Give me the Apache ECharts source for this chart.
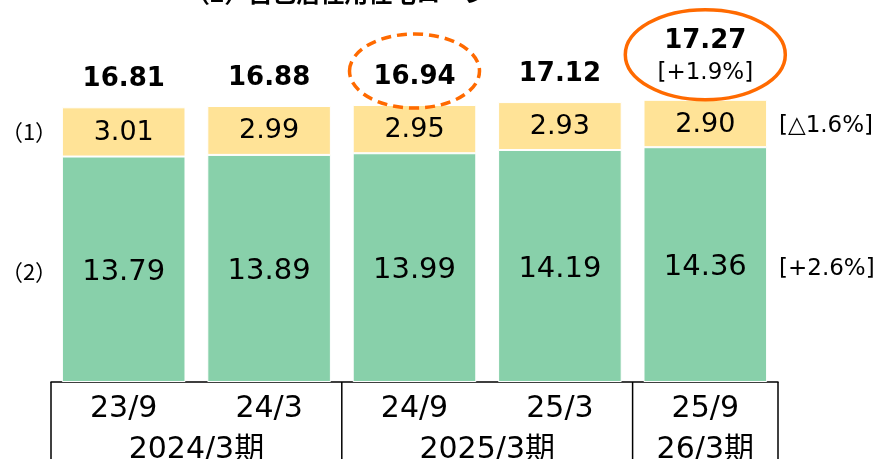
<!DOCTYPE html>
<html>
<head>
<meta charset="utf-8">
<script src="https://cdn.jsdelivr.net/npm/echarts@6/dist/echarts.min.js"></script>
<style>html,body{margin:0;padding:0;background:#fff}#c{width:883px;height:459px}</style>
</head>
<body>
<div id="c"></div>
<script>
const titleText = '（2）自己居住用住宅ローン';
const categories = ['23/9', '24/3', '24/9', '25/3', '25/9'];
const periods = ['2024/3期', '2025/3期', '26/3期'];
const periodSpans = [[0, 1], [2, 3], [4, 4]];
const series1 = [3.01, 2.99, 2.95, 2.93, 2.90];
const series2 = [13.79, 13.89, 13.99, 14.19, 14.36];
const totals = [16.81, 16.88, 16.94, 17.12, 17.27];
const totalChange = '[+1.9%]';
const rowNames = ['（1）', '（2）'];
const rowChanges = ['[△1.6%]', '[+2.6%]'];

const GREEN = '#88D0AA';
const YELLOW = '#FFE397';
const ORANGE = '#FF6A00';
const NUM_FONT = 'DejaVu Sans, Noto Sans CJK JP, sans-serif';
const JP_FONT = 'Noto Sans CJK JP, sans-serif';

const chart = echarts.init(document.getElementById('c'), null, {renderer: 'canvas'});
const last = categories.length - 1;

chart.setOption({
  animation: false,
  grid: {left: 51, right: 105, top: 55, bottom: 77},
  xAxis: {
    type: 'category', data: categories,
    axisLine: {lineStyle: {color: '#000', width: 1.5}},
    axisTick: {show: false},
    axisLabel: {fontSize: 30, color: '#000', margin: 12, fontFamily: NUM_FONT}
  },
  yAxis: {type: 'value', min: 0, max: 20, show: false},
  series: [
    {
      type: 'bar', stack: 's', data: series2, barWidth: '85%',
      itemStyle: {color: GREEN, borderColor: '#fff', borderWidth: 1},
      label: {show: true, position: 'inside', offset: [0, 3], fontSize: 29, color: '#000', fontFamily: NUM_FONT,
        formatter: p => p.value.toFixed(2)}
    },
    {
      type: 'bar', stack: 's', data: series1,
      itemStyle: {color: YELLOW, borderColor: '#fff', borderWidth: 1},
      label: {show: true, position: 'inside', offset: [0, 1], fontSize: 27, color: '#000', fontFamily: NUM_FONT,
        formatter: p => p.value.toFixed(2)}
    },
    {
      type: 'scatter', data: totals, symbolSize: 1,
      itemStyle: {color: 'rgba(0,0,0,0)', opacity: 1},
      silent: true,
      label: {
        show: true, position: 'top', distance: 11, color: '#000',
        formatter: p => p.dataIndex === last
          ? '{a|' + p.value.toFixed(2) + '}\n{b|' + totalChange + '}'
          : '{a|' + p.value.toFixed(2) + '}',
        rich: {
          a: {fontSize: 26, fontWeight: 'bold', color: '#000', lineHeight: 33, fontFamily: NUM_FONT},
          b: {fontSize: 23, color: '#000', lineHeight: 30, fontFamily: NUM_FONT}
        }
      }
    }
  ]
});

const px = (i, v) => chart.convertToPixel({xAxisIndex: 0, yAxisIndex: 0}, [i, v]);
const band = px(1, 0)[0] - px(0, 0)[0];
const baseY = px(0, 0)[1];
const H = 459;
const g = [];

// title (cut off at top, as in the reference)
g.push({type: 'text', left: 186, top: -19, style: {text: titleText, font: 'bold 24px ' + JP_FONT, fill: '#000'}});

// table lines
const bounds = [0, 2, 4, 5];
bounds.forEach(b => {
  const x = px(0, 0)[0] - band / 2 + b * band;
  g.push({type: 'line', shape: {x1: x, y1: baseY, x2: x, y2: H}, style: {stroke: '#000', lineWidth: 1.5}});
});
// period labels
periods.forEach((t, k) => {
  const [a, b] = periodSpans[k];
  const x = (px(a, 0)[0] + px(b, 0)[0]) / 2;
  g.push({type: 'text', x: x, y: baseY + 68, style: {text: t, font: '30px ' + NUM_FONT, fill: '#000', align: 'center', verticalAlign: 'middle'}});
});

// row names on left
const y1L = px(0, series2[0] + series1[0] / 2)[1];
const y2L = px(0, series2[0] / 2)[1];
g.push({type: 'text', x: 29, y: y1L, style: {text: rowNames[0], font: '22px ' + JP_FONT, fill: '#000', align: 'center', verticalAlign: 'middle'}});
g.push({type: 'text', x: 29, y: y2L + 2, style: {text: rowNames[1], font: '22px ' + JP_FONT, fill: '#000', align: 'center', verticalAlign: 'middle'}});

// changes on right
const y1R = px(last, series2[last] + series1[last] / 2)[1];
const y2R = px(last, series2[last] / 2)[1];
const xr = px(last, 0)[0] + band / 2 + 1;
g.push({type: 'text', x: xr, y: y1R + 3, style: {text: rowChanges[0], font: '23px ' + NUM_FONT, fill: '#000', align: 'left', verticalAlign: 'middle'}});
g.push({type: 'text', x: xr, y: y2R + 4, style: {text: rowChanges[1], font: '23px ' + NUM_FONT, fill: '#000', align: 'left', verticalAlign: 'middle'}});

// highlight ellipses
const t2 = px(2, totals[2]);
g.push({type: 'ellipse', shape: {cx: t2[0], cy: t2[1] - 34, rx: 65, ry: 37},
  style: {fill: 'none', stroke: ORANGE, lineWidth: 3.5, lineDash: [10, 6]}, z: 10});
const t4 = px(last, totals[last]);
g.push({type: 'ellipse', shape: {cx: t4[0], cy: t4[1] - 45, rx: 80, ry: 45},
  style: {fill: 'none', stroke: ORANGE, lineWidth: 3.5}, z: 10});

chart.setOption({graphic: g});
</script>
</body>
</html>
